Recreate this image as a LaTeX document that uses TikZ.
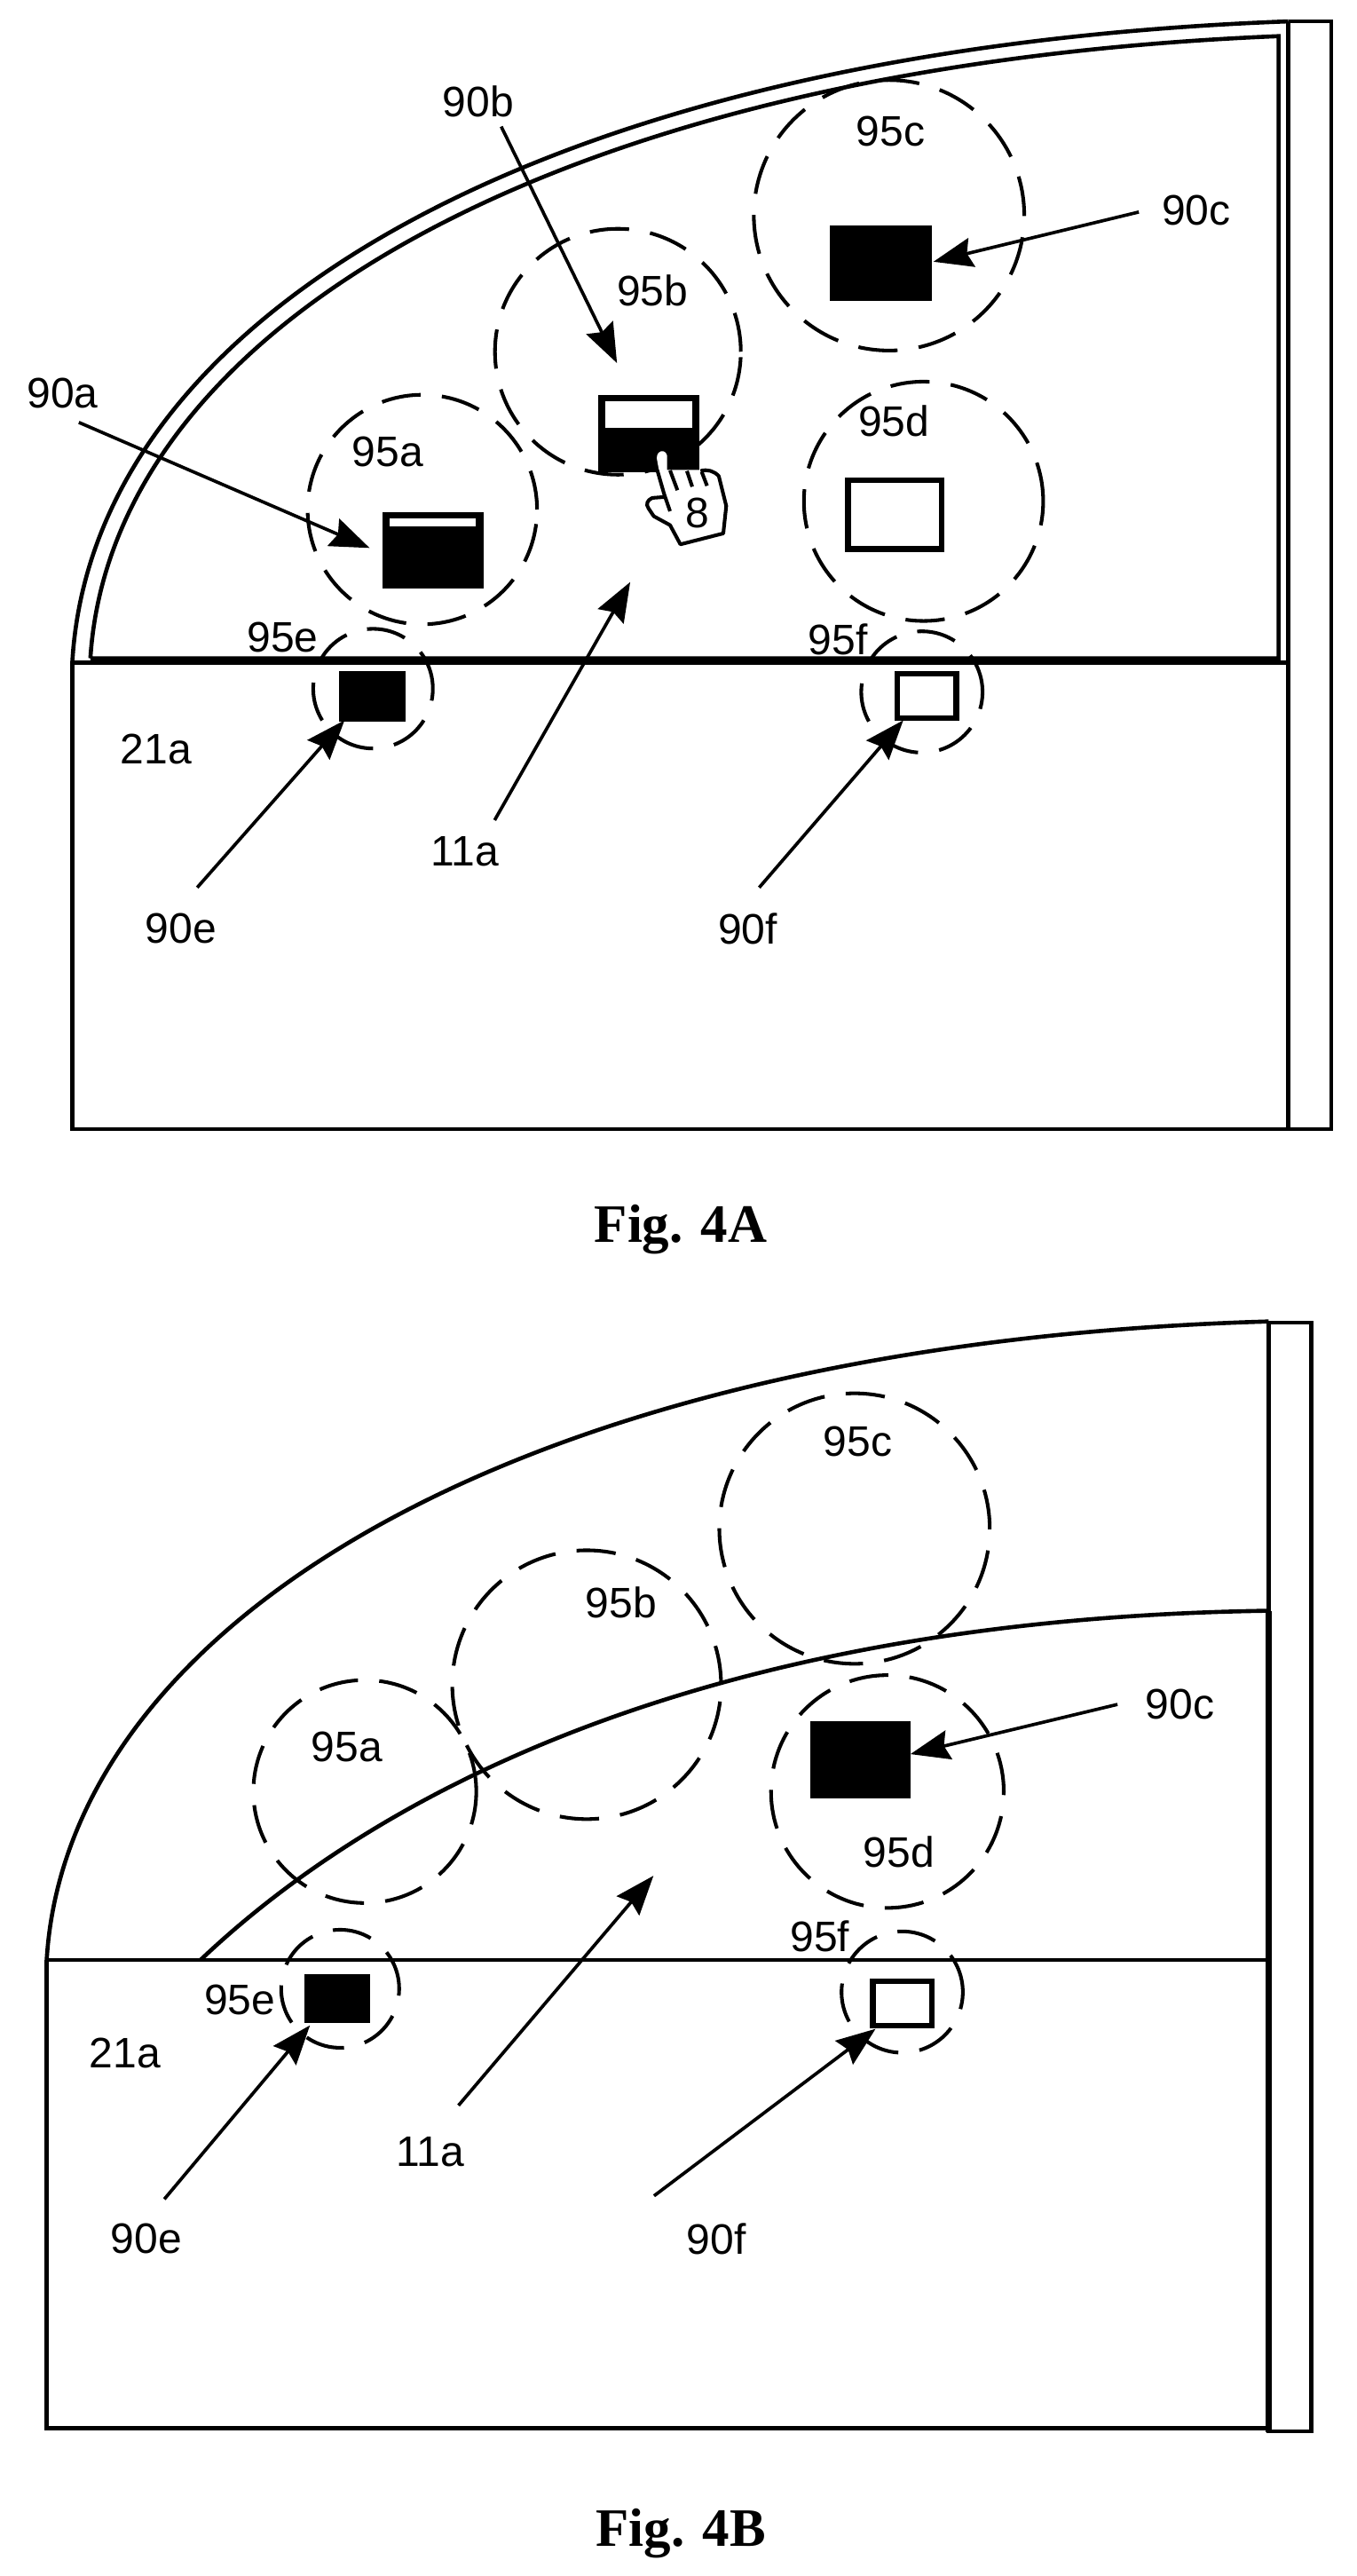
\documentclass[tikz,border=0pt]{standalone}
\usepackage{fontspec}
\setmainfont{Liberation Sans}
\newfontfamily\figfont{Liberation Serif}[BoldFont={Liberation Serif Bold}]
\usetikzlibrary{arrows.meta}
\tikzset{
  x=1.0027pt,y=-1.0027pt,
  outl/.style={line width=2.5pt,draw=black},
  ring/.style={circle,draw=black,line width=2.2pt,dash pattern=on 24pt off 13pt,inner sep=0pt,outer sep=0pt},
  lab/.style={font=\fontsize{26}{26}\selectfont,inner sep=0pt,text=black},
  figlab/.style={font=\fontsize{33}{33}\selectfont\figfont\bfseries,inner sep=0pt,anchor=base},
  sq/.style={rectangle,inner sep=0pt,outer sep=0pt},
  blackbox/.style={sq,fill=black,draw=black,line width=1pt},
  whitebox/.style={sq,fill=white,draw=black,line width=3.5pt},
  strip/.style={sq,fill=white},
  arr/.style={line width=2pt,-{Stealth[length=24pt,width=18pt,inset=3pt]},shorten >=-1pt},
}
\begin{document}
\begin{tikzpicture}
\path[use as bounding box,fill=white] (0,0) rectangle (825.77,1567.3);

%%%%% Fig 4A
\coordinate (stripAt) at (784,13);
\coordinate (stripAb) at (784,687);
\coordinate (stripArt) at (810,13);
\coordinate (stripArb) at (810,687);
\coordinate (lineAl) at (44,403);
\coordinate (lineAr) at (784,403);
\coordinate (frameAbl) at (44,687);
\draw[outl,line join=miter] (lineAl) -- (frameAbl) -- (stripArb) -- (stripArt) -- (stripAt);
\draw[outl] (stripAt) -- (stripAb);
\draw[outl] (lineAl) .. controls (56,192) and (330,30) .. (stripAt);
\draw[outl] (lineAl) -- (lineAr);
\coordinate (innerAl) at (55,400.5);
\coordinate (innerAt) at (778,22);
\coordinate (innerAb) at (778,400.5);
\draw[outl] (innerAl) .. controls (68,198) and (340,40) .. (innerAt) -- (innerAb) -- (innerAl);

\node[ring,minimum size=140pt] (r95aA) at (257,310) {};
\node[ring,minimum size=150pt] (r95bA) at (376,214) {};
\node[ring,minimum size=165pt] (r95cA) at (541,131) {};
\node[ring,minimum size=146pt] (r95dA) at (562,305) {};
\node[ring,minimum size=73pt] (r95eA) at (227,419) {};
\node[ring,minimum size=74pt] (r95fA) at (561,421) {};

\node[blackbox,minimum width=60.7pt,minimum height=45.4pt] (b90a) at (263.5,334.7) {};
\node[strip,minimum width=52.5pt,minimum height=4.7pt] (s90a) at (263.5,317.8) {};
\node[blackbox,minimum width=61pt,minimum height=46pt] (b90bA) at (394.7,263.8) {};
\node[strip,minimum width=53pt,minimum height=16.3pt] (s90bA) at (394.7,252) {};
\node[blackbox,minimum width=61pt,minimum height=45pt] (b90cA) at (536,160) {};
\node[whitebox,minimum width=57pt,minimum height=42pt] (b90dA) at (544.5,313) {};
\node[blackbox,minimum width=40pt,minimum height=30pt] (b90eA) at (226.5,423.5) {};
\node[whitebox,minimum width=36pt,minimum height=27pt] (b90fA) at (564,423.5) {};

% hand
\begin{scope}[shift={(334.85,216)},scale=0.18]
\fill[white] (375,325) .. controls (360,330) and (358,345) .. (362,360) -- (385,480)
  -- (345,483) .. controls (328,490) and (322,505) .. (332,518) -- (350,545) -- (405,575) -- (440,640)
  -- (585,603) -- (595,510) -- (570,410) .. controls (555,392) and (530,385) .. (505,388) -- (395,388) -- (395,340) .. controls (392,330) and (385,323) .. (375,325) -- cycle;
\draw[line width=2.2pt,line join=round]
  (385,480) -- (345,483) .. controls (328,490) and (322,505) .. (332,518) -- (350,545) -- (405,575) -- (440,640)
  -- (585,603) -- (595,510) -- (570,410) .. controls (555,392) and (530,385) .. (508,392);
\draw[line width=2.2pt] (362,390) -- (385,470) -- (405,528);
\draw[line width=2.2pt] (405,390) -- (430,457);
\draw[line width=2.2pt] (462,392) -- (480,445);
\draw[line width=2.2pt] (512,395) -- (530,442);
\end{scope}
\node[lab] (l8) at (424.4,312.2) {8};

\node[lab] (l90a) at (38,239) {90a};
\node[lab] (l90bA) at (291,62) {90b};
\node[lab] (l90cA) at (728,128) {90c};
\node[lab] (l95aA) at (236,275) {95a};
\node[lab] (l95bA) at (397,177) {95b};
\node[lab] (l95cA) at (542,80) {95c};
\node[lab] (l95dA) at (544,256) {95d};
\node[lab] (l95eA) at (172,388) {95e};
\node[lab] (l95fA) at (510,389) {95f};
\node[lab] (l21aA) at (95,456) {21a};
\node[lab] (l11aA) at (283,518) {11a};
\node[lab] (l90eA) at (110,565) {90e};
\node[lab] (l90fA) at (455,565) {90f};

\coordinate (a1) at (48,257);   \coordinate (a1e) at (224,333);
\coordinate (a2) at (305,77);   \coordinate (a2e) at (375,220);
\coordinate (a3) at (693,129);  \coordinate (a3e) at (569,159);
\coordinate (a4) at (301,499);  \coordinate (a4e) at (383,355);
\coordinate (a5) at (120,540);  \coordinate (a5e) at (209,439);
\coordinate (a6) at (462,540);  \coordinate (a6e) at (549,439);
\draw[arr] (a1) -- (a1e);
\draw[arr] (a2) -- (a2e);
\draw[arr] (a3) -- (a3e);
\draw[arr] (a4) -- (a4e);
\draw[arr] (a5) -- (a5e);
\draw[arr] (a6) -- (a6e);

\node[figlab] (figA) at (414.3,755.6) {Fig. 4A};

%%%%% Fig 4B
\coordinate (lineBl) at (28.4,1192.5);
\coordinate (lineBr) at (772,1192.5);
\coordinate (topBr) at (772,804);
\coordinate (botBl) at (28.4,1477.5);
\coordinate (botBr) at (772,1477.5);
\draw[outl] (lineBl) -- (botBl) -- (botBr);
\draw[outl] (lineBl) -- (lineBr);
\draw[outl] (lineBl) .. controls (41,985) and (320,817) .. (topBr);
\node[sq,draw=black,line width=2.5pt,minimum width=26pt,minimum height=676.5pt] (stripB) at (785,1142) {};
\coordinate (innerBl) at (122,1192.5);
\coordinate (innerBr) at (772,980);
\draw[outl] (innerBl) .. controls (230,1090) and (430,985) .. (innerBr);
\coordinate (stripBmid) at (772,980);
\coordinate (stripBlow) at (772,1480);
\draw[line width=3.8pt] (stripBmid) -- (stripBlow);

\node[ring,minimum size=136pt] (r95aB) at (222,1090) {};
\node[ring,minimum size=164pt] (r95bB) at (357,1025) {};
\node[ring,minimum size=165pt] (r95cB) at (520,930) {};
\node[ring,minimum size=142pt] (r95dB) at (540,1090) {};
\node[ring,minimum size=72pt] (r95eB) at (207,1210) {};
\node[ring,minimum size=74pt] (r95fB) at (549,1212) {};

\node[blackbox,minimum width=60pt,minimum height=46pt] (b90cB) at (523.5,1070.5) {};
\node[blackbox,minimum width=39pt,minimum height=29pt] (b90eB) at (205,1216) {};
\node[whitebox,minimum width=36pt,minimum height=27pt] (b90fB) at (549,1219) {};

\node[lab] (l95aB) at (211,1063) {95a};
\node[lab] (l95bB) at (378,975) {95b};
\node[lab] (l95cB) at (522,877) {95c};
\node[lab] (l95dB) at (547,1127) {95d};
\node[lab] (l90cB) at (718,1037) {90c};
\node[lab] (l95eB) at (146,1217) {95e};
\node[lab] (l95fB) at (499,1178) {95f};
\node[lab] (l21aB) at (76,1249) {21a};
\node[lab] (l11aB) at (262,1309) {11a};
\node[lab] (l90eB) at (89,1362) {90e};
\node[lab] (l90fB) at (436,1362) {90f};

\coordinate (c1) at (680,1037);  \coordinate (c1e) at (555,1067);
\coordinate (c2) at (279,1281);  \coordinate (c2e) at (397,1142);
\coordinate (c3) at (100,1338);  \coordinate (c3e) at (188,1233);
\coordinate (c4) at (398,1336);  \coordinate (c4e) at (532,1235);
\draw[arr] (c1) -- (c1e);
\draw[arr] (c2) -- (c2e);
\draw[arr] (c3) -- (c3e);
\draw[arr] (c4) -- (c4e);

\node[figlab] (figB) at (414.3,1549.4) {Fig. 4B};
\end{tikzpicture}
\end{document}
